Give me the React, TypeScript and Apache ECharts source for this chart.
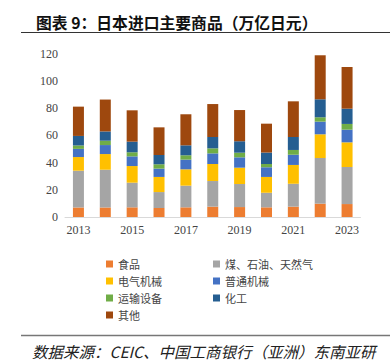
import React, { useEffect, useRef } from "react";
import * as echarts from "echarts";

const years = ["2013", "2014", "2015", "2016", "2017", "2018", "2019", "2020", "2021", "2022", "2023"];
const food = [7.0, 7.0, 7.1, 6.6, 7.1, 7.6, 7.3, 7.1, 7.6, 9.8, 9.5];
const fuel = [27.0, 27.7, 18.1, 11.7, 15.9, 18.8, 16.9, 10.7, 16.8, 33.5, 27.2];
const electrical = [10.0, 11.5, 12.2, 11.1, 12.0, 12.5, 12.0, 11.6, 13.8, 17.4, 18.1];
const machinery = [6.0, 6.6, 7.1, 6.1, 7.1, 7.8, 7.6, 7.1, 7.5, 9.3, 9.3];
const transport = [2.5, 3.2, 3.0, 3.2, 3.2, 3.7, 3.4, 2.4, 3.5, 3.2, 4.2];
const chemical = [7.0, 6.8, 7.8, 6.8, 7.3, 8.3, 8.4, 8.4, 9.5, 13.2, 11.2];
const other = [21.5, 23.4, 23.0, 20.3, 22.8, 24.2, 22.9, 21.2, 26.2, 32.3, 30.6];

const seriesNames = ["食品", "煤、石油、天然气", "电气机械", "普通机械", "运输设备", "化工", "其他"];
const seriesData = [food, fuel, electrical, machinery, transport, chemical, other];
const colors = ["#ED7D31", "#A5A5A5", "#FFC000", "#4472C4", "#70AD47", "#255E91", "#9E480E"];

const titleText = "图表 9：日本进口主要商品（万亿日元）";
const sourceText = "数据来源：CEIC、中国工商银行（亚洲）东南亚研";

export default function App() {
  const ref = useRef<HTMLDivElement>(null);
  useEffect(() => {
    if (!ref.current) return;
    const chart = echarts.init(ref.current, undefined, { renderer: "svg" });
    const legendText = {
      fontFamily: "Noto Sans CJK SC",
      fontSize: 11,
      color: "#444",
      lineHeight: 12,
    };
    chart.setOption({
      animation: false,
      title: {
        text: titleText,
        left: 31,
        top: 10,
        textStyle: {
          fontFamily: "Noto Sans CJK SC",
          fontSize: 15.8,
          fontWeight: "bold",
          color: "#111",
        },
      },
      graphic: [
        {
          type: "line",
          shape: { x1: 21, y1: 32.5, x2: 390, y2: 32.5 },
          style: { stroke: "#333", lineWidth: 1 },
        },
        {
          type: "line",
          shape: { x1: 21, y1: 335.5, x2: 390, y2: 335.5 },
          style: { stroke: "#777", lineWidth: 1.5 },
        },
        {
          type: "text",
          x: 32,
          y: 351,
          style: {
            text: sourceText,
            font: "italic 15.5px 'Noto Sans CJK SC'",
            fill: "#222",
            verticalAlign: "middle",
          },
        },
      ],
      legend: [
        {
          orient: "vertical",
          left: 101,
          top: 253,
          itemWidth: 7,
          itemHeight: 7,
          itemGap: 5,
          icon: "rect",
          data: [seriesNames[0], seriesNames[2], seriesNames[4], seriesNames[6]],
          textStyle: legendText,
        },
        {
          orient: "vertical",
          left: 208,
          top: 253,
          itemWidth: 7,
          itemHeight: 7,
          itemGap: 5,
          icon: "rect",
          data: [seriesNames[1], seriesNames[3], seriesNames[5]],
          textStyle: legendText,
        },
      ],
      grid: { left: 65, right: 29.5, top: 53.5, bottom: 147, containLabel: false },
      xAxis: {
        type: "category",
        data: years,
        axisLine: { lineStyle: { color: "#D9D9D9", width: 1 } },
        axisTick: { interval: 1, length: 4, lineStyle: { color: "#D9D9D9" } },
        axisLabel: {
          interval: 1,
          margin: 7,
          fontFamily: "Liberation Serif",
          fontSize: 12,
          color: "#444",
        },
      },
      yAxis: {
        type: "value",
        min: 0,
        max: 120,
        interval: 20,
        axisLine: { show: false },
        axisTick: { show: false },
        splitLine: { show: false },
        axisLabel: {
          margin: 7,
          fontFamily: "Liberation Serif",
          fontSize: 12,
          color: "#444",
        },
      },
      series: seriesNames.map((name, i) => ({
        name,
        type: "bar",
        stack: "total",
        barWidth: 11,
        data: seriesData[i],
        itemStyle: { color: colors[i] },
      })),
    });
    return () => chart.dispose();
  }, []);
  return <div ref={ref} style={{ width: 390, height: 364, position: "absolute", left: 0, top: 0 }} />;
}
